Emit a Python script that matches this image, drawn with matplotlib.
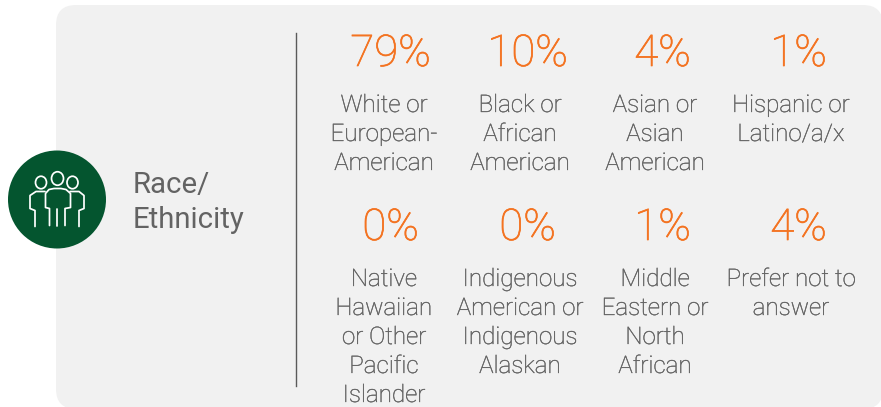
"""
Race/Ethnicity infographic panel.
"""

import matplotlib
matplotlib.use('Agg')
import matplotlib.pyplot as plt
import matplotlib.patheffects as pe
from matplotlib.patches import Circle, Ellipse, FancyBboxPatch

# ── Data ────────────────────────────────────────────────────────────────────
TITLE_LINES = ['Race/', 'Ethnicity']
VALUES_TOP = ['79%', '10%', '4%', '1%']
LABELS_TOP = [
    ['White or', 'European-', 'American'],
    ['Black or', 'African', 'American'],
    ['Asian or', 'Asian', 'American'],
    ['Hispanic or', 'Latino/a/x'],
]
VALUES_BOTTOM = ['0%', '0%', '1%', '4%']
LABELS_BOTTOM = [
    ['Native', 'Hawaiian', 'or Other', 'Pacific', 'Islander'],
    ['Indigenous', 'American or', 'Indigenous', 'Alaskan'],
    ['Middle', 'Eastern or', 'North', 'African'],
    ['Prefer not to', 'answer'],
]

# ── Style ───────────────────────────────────────────────────────────────────
ORANGE = '#f47321'
GREY = '#636363'
PANEL = '#f1f1f1'
GREEN = '#04552f'
VALUE_X = [390.5, 527.5, 662.5, 798.5]
LABEL_X = [384, 520, 655, 791]
LINE_H = 29

plt.rcParams['font.family'] = ['Roboto', 'DejaVu Sans']

fig = plt.figure(figsize=(8.81, 4.07), dpi=100)
ax = fig.add_axes([0, 0, 1, 1])
ax.set_xlim(0, 881)
ax.set_ylim(407, 0)
ax.axis('off')

# Panel runs just past the right and bottom edges of the picture
ax.add_patch(FancyBboxPatch((56, 5), 827, 404, boxstyle='round,pad=0,rounding_size=20',
                            fc=PANEL, ec='none', zorder=0))
ax.plot([296, 296], [33, 386], color='#5a5a5a', lw=1.0, zorder=1)


def draw_icon(cx, cy):
    ax.add_patch(Circle((cx, cy), 49, fc=GREEN, ec='none', zorder=2))
    kw = dict(color='white', lw=1.25, zorder=3, solid_capstyle='round', solid_joinstyle='round')
    ell = dict(fc='none', ec='white', lw=1.25, zorder=3)
    # heads
    ax.add_patch(Ellipse((cx - 16, cy - 17), 11, 12.5, **ell))
    ax.add_patch(Ellipse((cx + 0.5, cy - 21), 12, 13.5, **ell))
    ax.add_patch(Ellipse((cx + 15.5, cy - 17), 11, 12.5, **ell))
    # middle figure
    ax.plot([cx - 7.5, cx - 7.5, cx - 11.5, cx - 11.5, cx - 8, cx - 3, cx + 4, cx + 9,
             cx + 13.5, cx + 13.5, cx + 8, cx + 8],
            [cy + 26, cy + 9, cy + 8, cy - 6, cy - 10, cy - 11, cy - 11, cy - 10,
             cy - 6, cy + 8, cy + 9, cy + 26], **kw)
    ax.plot([cx, cx], [cy + 9, cy + 26], **kw)
    # left figure
    ax.plot([cx - 12, cx - 21, cx - 27, cx - 27, cx - 22, cx - 22],
            [cy - 8, cy - 8, cy - 4, cy + 9, cy + 11, cy + 27], **kw)
    # right figure
    ax.plot([cx + 13, cx + 22, cx + 27, cx + 27, cx + 22, cx + 22],
            [cy - 8, cy - 8, cy - 4, cy + 9, cy + 11, cy + 27], **kw)


def draw_row(values, labels, value_y, label_y):
    for vx, lx, val, lines in zip(VALUE_X, LABEL_X, values, labels):
        t = ax.text(vx, value_y, val, color=ORANGE, fontsize=31.5, fontweight='light',
                    ha='center', va='baseline')
        t.set_path_effects([pe.withStroke(linewidth=0.5, foreground=ORANGE)])
        for i, line in enumerate(lines):
            t = ax.text(lx, label_y + i * LINE_H, line, color=GREY, fontsize=17.4,
                        fontweight='light', ha='center', va='baseline')
            t.set_path_effects([pe.withStroke(linewidth=0.25, foreground=GREY)])


draw_icon(57, 199.5)
for i, line in enumerate(TITLE_LINES):
    ax.text(132.5, 193 + i * 35, line, color=GREY, fontsize=21.2, ha='left', va='baseline')

draw_row(VALUES_TOP, LABELS_TOP, 66, 112)
draw_row(VALUES_BOTTOM, LABELS_BOTTOM, 240, 286)

fig.savefig('out.png', dpi=100, facecolor='white')
